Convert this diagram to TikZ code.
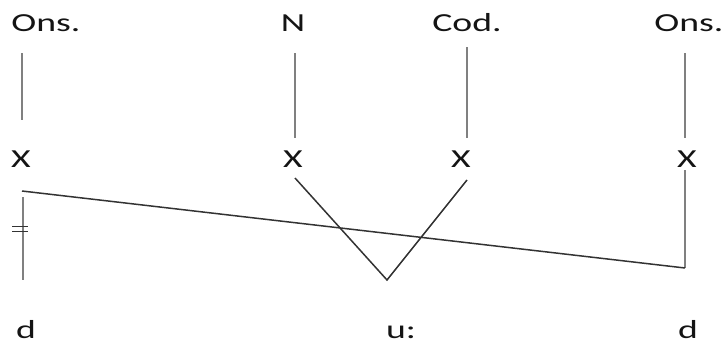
\documentclass[tikz,border=0pt]{standalone}
\usepackage{fontspec}
\setmainfont{Carlito}
\begin{document}
\begin{tikzpicture}[x=1pt,y=-1pt,
  lbl/.style={inner sep=0pt,anchor=base,text=black!92,font=\fontsize{26}{26}\selectfont,xscale=1.45},
  grayline/.style={draw=black!50,line width=2.6pt},
  darkline/.style={draw=black!80,line width=1.5pt}]
\useasboundingbox (0,0) rectangle (723,343);
% top labels
\node[lbl] (ons1) at (46,31) {Ons.};
\node[lbl] (nuc) at (293,31) {N};
\node[lbl] (cod) at (467,31) {Cod.};
\node[lbl] (ons2) at (689,31) {Ons.};
% x slots
\node[lbl] (x1) at (21,167) {X};
\node[lbl] (x2) at (293,167) {X};
\node[lbl] (x3) at (461,167) {X};
\node[lbl] (x4) at (687,167) {X};
% segments
\node[lbl] (d1) at (26,338) {d};
\node[lbl] (u) at (401,338) {u:};
\node[lbl] (d2) at (688,338) {d};
% coordinates
\coordinate (a1) at (22,53);
\coordinate (a2) at (22,120);
\coordinate (b1) at (295,53);
\coordinate (b2) at (295,138);
\coordinate (c1) at (467,47);
\coordinate (c2) at (467,138);
\coordinate (e1) at (685,53);
\coordinate (e2) at (685,138);
\coordinate (f1) at (685,170);
\coordinate (corner) at (685,268);
\coordinate (g1) at (22,191);
\coordinate (h1) at (23,197);
\coordinate (h2) at (23,280);
\coordinate (tk) at (20,229);
\coordinate (v1) at (295,178);
\coordinate (vb) at (387,280);
\coordinate (v2) at (467,180);
% vertical association lines
\draw[grayline] (a1) -- (a2);
\draw[grayline] (b1) -- (b2);
\draw[grayline] (c1) -- (c2);
\draw[grayline] (e1) -- (e2);
\draw[grayline] (f1) -- (corner);
\draw[grayline] (h1) -- (h2);
% delinking marks
\draw[darkline,line width=1.1pt] ([xshift=-8pt,yshift=-2.5pt]tk) -- ([xshift=8pt,yshift=-2.5pt]tk);
\draw[darkline,line width=1.1pt] ([xshift=-8pt,yshift=2.5pt]tk) -- ([xshift=8pt,yshift=2.5pt]tk);
% spreading line
\draw[darkline] (g1) -- (corner);
% V
\draw[darkline] (v1) -- (vb) -- (v2);
\end{tikzpicture}
\end{document}
